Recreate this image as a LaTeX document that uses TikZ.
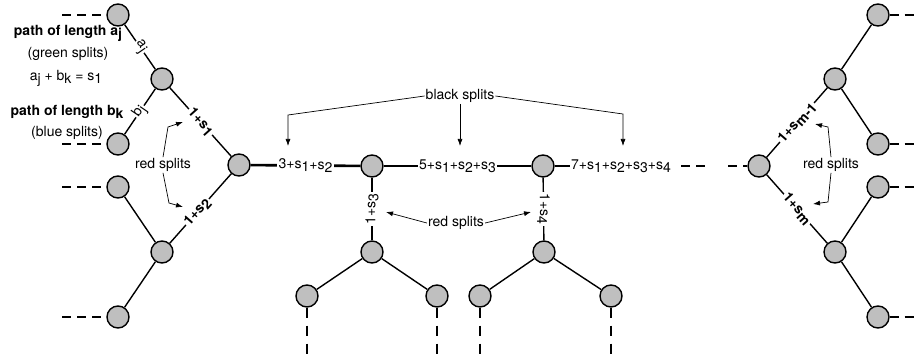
\documentclass[tikz,border=0pt]{standalone}
\usepackage{fontspec}
\setmainfont{TeX Gyre Heros}
\usetikzlibrary{arrows.meta,calc}
\newcommand{\lowidx}[1]{\raisebox{-.4ex}{#1}}
\newcommand{\notesize}{\fontsize{14}{17}\selectfont}

\begin{document}
\begin{tikzpicture}[x=1pt,y=-1pt,
    vert/.style={circle, draw, line width=1.4pt, fill=black!25,
                 minimum size=22pt, inner sep=0pt},
    tedge/.style={line width=1.4pt},
    spine/.style={line width=2.6pt},
    stub/.style={line width=1.4pt, dash pattern=on 9pt off 6pt},
    elabel/.style={fill=white, inner sep=1.5pt, sloped, font=\notesize},
    blabel/.style={elabel, font=\notesize\bfseries},
    note/.style={inner sep=1pt, font=\notesize},
    pointer/.style={-{Latex[length=7pt,width=5pt]}, line width=0.7pt}]
    \useasboundingbox (0,0) rectangle (917,358);

    % Left tree --------------------------------------------------------
    \node[vert] (lu1)  at (118,15)  {};
    \node[vert] (lu)   at (162,79)  {};
    \node[vert] (lu2)  at (118,144) {};
    \node[vert] (root) at (239,165) {};
    \node[vert] (ll1)  at (118,187) {};
    \node[vert] (ll)   at (162,252) {};
    \node[vert] (ll2)  at (118,317) {};

    \draw[tedge] (lu1) -- node[elabel] {a\lowidx{j}} (lu);
    \draw[tedge] (lu2) -- node[elabel] {b\lowidx{j}} (lu);
    \draw[tedge] (lu) -- node[blabel] {1+s\lowidx{1}} (root);
    \draw[tedge] (ll) -- node[blabel, pos=.45] {1+s\lowidx{2}} (root);
    \draw[tedge] (ll1) -- (ll);
    \draw[tedge] (ll2) -- (ll);
    \foreach \n in {lu1,lu2,ll1,ll2}
        \draw[stub] (\n.west) ++(-44,0) -- (\n.west);

    \node[note, font=\notesize\bfseries] (pa) at (68,33)
        {path of length a\lowidx{j}};
    \node[note] (ga) at (68,54) {(green splits)};
    \node[note] (sum) at (66,78) {a\lowidx{j} + b\lowidx{k} = s\lowidx{1}};
    \node[note, font=\notesize\bfseries] (pb) at (67,112)
        {path of length b\lowidx{k}};
    \node[note] (gb) at (67,133) {(blue splits)};

    % Middle spine -----------------------------------------------------
    \node[vert] (m1) at (372,166) {};
    \node[vert] (m2) at (543,166) {};
    \node[vert] (rr) at (759,166) {};

    \draw[spine] (root) -- node[elabel] {3+s\lowidx{1}+s\lowidx{2}} (m1);
    \draw[spine] (m1) -- node[elabel] {5+s\lowidx{1}+s\lowidx{2}+s\lowidx{3}} (m2);
    \node[note, anchor=west] (t7) at (570,166)
        {7+s\lowidx{1}+s\lowidx{2}+s\lowidx{3}+s\lowidx{4}};
    \draw[spine] (m2) -- (t7);
    \coordinate (gapl) at (705,166);
    \coordinate (gapr) at (728,166);
    \draw[spine, dash pattern=on 9pt off 6pt] (681,166) -- (gapl);
    \draw[spine, dash pattern=on 9pt off 6pt] (gapr) -- (rr);

    % Hanging subtrees -------------------------------------------------
    \node[vert] (s3)  at (372,252) {};
    \node[vert] (s3a) at (307,296) {};
    \node[vert] (s3b) at (437,296) {};
    \node[vert] (s4)  at (544,252) {};
    \node[vert] (s4a) at (480,296) {};
    \node[vert] (s4b) at (611,296) {};

    \draw[tedge] (s3) -- node[elabel] {1+s\lowidx{3}} (m1);
    \draw[tedge] (s4) -- node[elabel] {1+s\lowidx{4}} (m2);
    \foreach \p/\c in {s3/s3a,s3/s3b,s4/s4a,s4/s4b}
        \draw[tedge] (\p) -- (\c);
    \foreach \n in {s3a,s3b,s4a,s4b}
        \draw[stub, dash pattern=on 10pt off 8pt] (\n.south) -- ++(0,52);

    % Right tree -------------------------------------------------------
    \node[vert] (ru)  at (835,79)  {};
    \node[vert] (ru1) at (878,15)  {};
    \node[vert] (ru2) at (878,144) {};
    \node[vert] (rl)  at (835,252) {};
    \node[vert] (rl1) at (878,187) {};
    \node[vert] (rl2) at (878,317) {};

    \draw[tedge] (rr) -- node[blabel] {1+s\lowidx{m-1}} (ru);
    \draw[tedge] (rr) -- node[blabel] {1+s\lowidx{m}} (rl);
    \foreach \p/\c in {ru/ru1,ru/ru2,rl/rl1,rl/rl2}
        \draw[tedge] (\p) -- (\c);
    \foreach \n in {ru1,ru2,rl1,rl2}
        \draw[stub] (\n.east) -- ++(30,0);

    % Annotations ------------------------------------------------------
    \node[note] (redl) at (163,165) {red splits};
    \draw[pointer] (redl.north) -- (168,127) -- (183,122);
    \draw[pointer] (redl.south) -- (169,203) -- (183,207);

    \node[note] (redr) at (831,165) {red splits};
    \draw[pointer] (redr.north) -- (828,127) -- (815,124);
    \draw[pointer] (redr.south) -- (828,202) -- (813,204);

    \node[note] (black) at (460,96) {black splits};
    \draw[pointer] (black.west) -- (288,115) -- (288,146);
    \draw[pointer] (black.south) -- (460,146);
    \draw[pointer] (black.east) -- (623,114) -- (623,146);

    \node[note] (redm) at (456,223) {red splits};
    \draw[pointer] (redm.west) -- (386,212);
    \draw[pointer] (redm.east) -- (531,212);
\end{tikzpicture}
\end{document}
